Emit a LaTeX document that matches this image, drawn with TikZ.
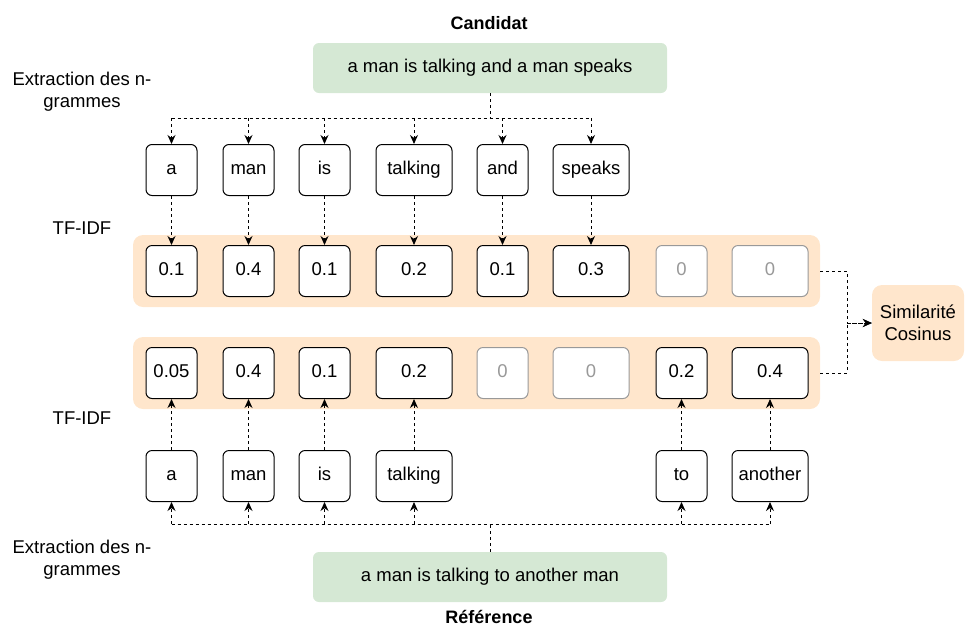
\documentclass[tikz,border=0pt]{standalone}
\usepackage{fontspec}
\setmainfont{Liberation Sans}
\usetikzlibrary{arrows.meta}
\definecolor{bandfill}{HTML}{FFE6CC}
\definecolor{greenfill}{HTML}{D5E8D4}
\definecolor{zerogray}{HTML}{999999}
\begin{document}
\begin{tikzpicture}[x=1pt,y=-1pt,
  font=\fontsize{18.5}{22}\selectfont,
  tok/.style={draw,rounded corners=6pt,line width=1pt,minimum height=51pt,inner sep=0pt,fill=white,text height=0.95em,text depth=0em},
  narrow/.style={tok,minimum width=51pt},
  wide/.style={tok,minimum width=76pt},
  zero/.style={draw=zerogray,text=zerogray},
  band/.style={fill=bandfill,rounded corners=10pt,minimum width=687pt,minimum height=72pt,inner sep=0pt},
  sent/.style={fill=greenfill,rounded corners=6pt,minimum width=354pt,minimum height=50pt,inner sep=0pt,text height=0.95em,text depth=0em},
  title/.style={font=\fontsize{18}{22}\selectfont\bfseries},
  dsh/.style={line width=1pt,dash pattern=on 3pt off 3pt},
  conn/.style={dsh,-{Stealth[length=9pt,width=8pt]}},
]
\useasboundingbox (0,0) rectangle (965,630);

% titles and labels
\node[title] (tcand) at (489,23) {Candidat};
\node[title] (tref) at (489,617) {Référence};
\node[align=center] (lext1) at (82,92) {Extraction des n-\\grammes};
\node[align=center] (lext2) at (82,560) {Extraction des n-\\grammes};
\node (ltf1) at (82,228) {TF-IDF};
\node (ltf2) at (82,418) {TF-IDF};

% sentences
\node[sent] (cand) at (490,68) {a man is talking and a man speaks};
\node[sent] (ref) at (490,577) {a man is talking to another man};

% bands
\node[band] (band1) at (476.5,271) {};
\node[band] (band2) at (476.5,373) {};

% top tokens
\node[narrow] (ta) at (171.5,170) {a};
\node[narrow] (tman) at (248.5,170) {man};
\node[narrow] (tis) at (324.5,170) {is};
\node[wide] (ttalk) at (414,170) {talking};
\node[narrow] (tand) at (502.5,170) {and};
\node[wide] (tspk) at (591,170) {speaks};

% top values
\node[narrow] (va) at (171.5,271) {0.1};
\node[narrow] (vman) at (248.5,271) {0.4};
\node[narrow] (vis) at (324.5,271) {0.1};
\node[wide] (vtalk) at (414,271) {0.2};
\node[narrow] (vand) at (502.5,271) {0.1};
\node[wide] (vspk) at (591,271) {0.3};
\node[narrow,zero] (vto) at (681.5,271) {0};
\node[wide,zero] (vano) at (770,271) {0};

% bottom values
\node[narrow] (wa) at (171.5,373) {0.05};
\node[narrow] (wman) at (248.5,373) {0.4};
\node[narrow] (wis) at (324.5,373) {0.1};
\node[wide] (wtalk) at (414,373) {0.2};
\node[narrow,zero] (wand) at (502.5,373) {0};
\node[wide,zero] (wspk) at (591,373) {0};
\node[narrow] (wto) at (681.5,373) {0.2};
\node[wide] (wano) at (770,373) {0.4};

% bottom tokens
\node[narrow] (ba) at (171.5,476) {a};
\node[narrow] (bman) at (248.5,476) {man};
\node[narrow] (bis) at (324.5,476) {is};
\node[wide] (btalk) at (414,476) {talking};
\node[narrow] (bto) at (681.5,476) {to};
\node[wide] (bano) at (770,476) {another};

% cosine
\node[fill=bandfill,rounded corners=10pt,minimum width=92pt,minimum height=76pt,align=center,inner sep=0pt] (cos) at (918,323) {Similarité\\Cosinus};

% top bus
\coordinate (bus1) at (490,118);
\draw[dsh] (cand.south) -- (bus1);
\draw[dsh] (ta |- bus1) -- (tspk |- bus1);
\foreach \n in {ta,tman,tis,ttalk,tand,tspk} {\draw[conn] (\n |- bus1) -- (\n);}
\draw[conn] (ta) -- (va);
\draw[conn] (tman) -- (vman);
\draw[conn] (tis) -- (vis);
\draw[conn] (ttalk) -- (vtalk);
\draw[conn] (tand) -- (vand);
\draw[conn] (tspk) -- (vspk);

% bottom bus
\coordinate (bus2) at (490,524);
\draw[dsh] (ref.north) -- (bus2);
\draw[dsh] (ba |- bus2) -- (bano |- bus2);
\foreach \n in {ba,bman,bis,btalk,bto,bano} {\draw[conn] (\n |- bus2) -- (\n);}
\draw[conn] (ba) -- (wa);
\draw[conn] (bman) -- (wman);
\draw[conn] (bis) -- (wis);
\draw[conn] (btalk) -- (wtalk);
\draw[conn] (bto) -- (wto);
\draw[conn] (bano) -- (wano);

% to cosine
\draw[conn] (band1.east) -- ++(27,0) |- (cos.west);
\draw[conn] (band2.east) -- ++(27,0) |- (cos.west);
\end{tikzpicture}
\end{document}
